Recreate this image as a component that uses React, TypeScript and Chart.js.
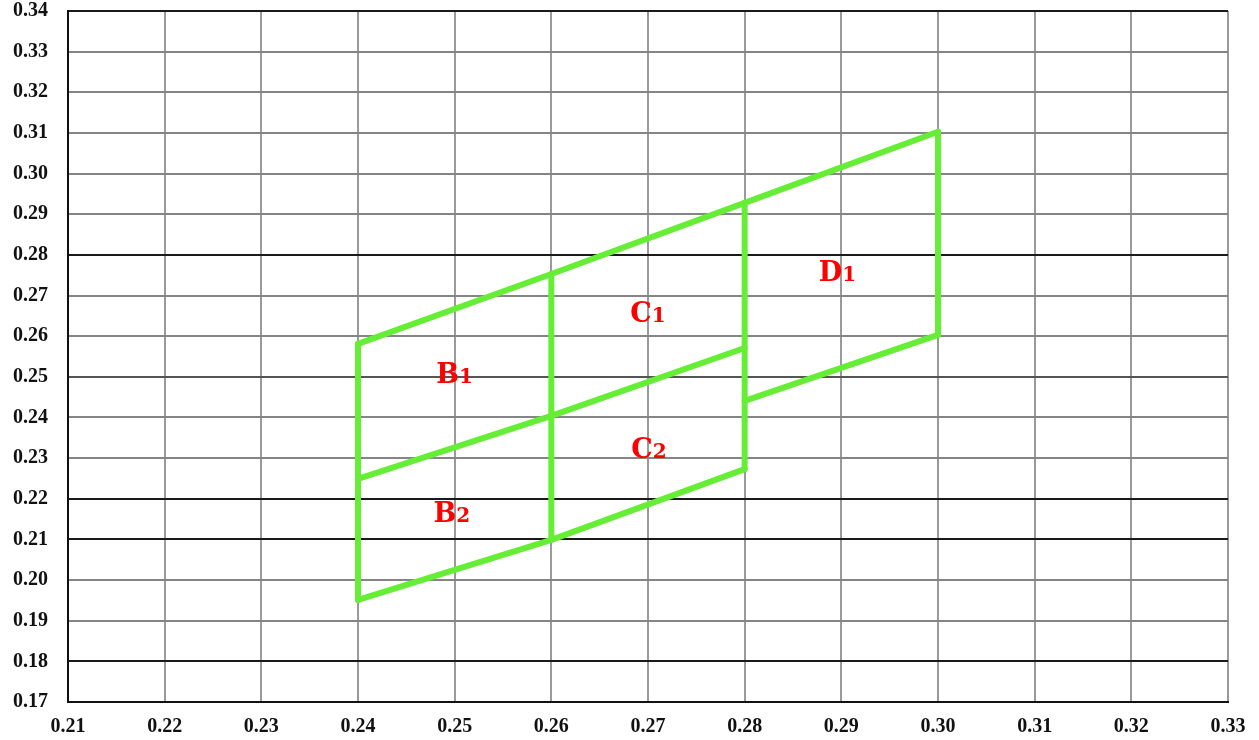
import React, { useEffect, useRef } from "react";
import { Chart, registerables } from "chart.js";

Chart.register(...registerables);

const xTickValues = [0.21, 0.22, 0.23, 0.24, 0.25, 0.26, 0.27, 0.28, 0.29, 0.3, 0.31, 0.32, 0.33];
const yTickValues = [0.17, 0.18, 0.19, 0.2, 0.21, 0.22, 0.23, 0.24, 0.25, 0.26, 0.27, 0.28, 0.29, 0.3, 0.31, 0.32, 0.33, 0.34];
const darkGridY = [0.18, 0.21, 0.22, 0.28, 0.34];
const midGridY = [0.25];

// Upper edge across B1, C1, D1
const topEdgeX = [0.24, 0.26, 0.28, 0.3];
const topEdgeY = [0.2581, 0.2753, 0.2928, 0.3103];
// Middle edge between B1/B2 and C1/C2
const midEdgeX = [0.24, 0.26, 0.28];
const midEdgeY = [0.2249, 0.2404, 0.2571];
// Lower edge of B2, C2
const lowEdgeX = [0.24, 0.26, 0.28];
const lowEdgeY = [0.1951, 0.2099, 0.2273];
// Lower edge of D1
const dLowEdgeX = [0.28, 0.3];
const dLowEdgeY = [0.2441, 0.2603];
// Vertical edges
const verticalX = [0.24, 0.26, 0.28, 0.3];
const verticalLow = [0.1951, 0.2099, 0.2273, 0.2603];
const verticalHigh = [0.2581, 0.2753, 0.2928, 0.3103];

// Region labels
const labelLetters = ["B", "B", "C", "C", "D"];
const labelDigits = ["1", "2", "1", "2", "1"];
const labelX = [0.25, 0.2497, 0.27, 0.2701, 0.2896];
const labelY = [0.2485, 0.2144, 0.2635, 0.23, 0.2736];

const GREEN = "#66ee36";

function near(list: number[], v: number) {
  return list.some((a) => Math.abs(a - v) < 1e-6);
}

function pts(xs: number[], ys: number[]) {
  return xs.map((x, i) => ({ x, y: ys[i] }));
}

const labelPlugin = {
  id: "regionLabels",
  afterDatasetsDraw(chart: any) {
    const ctx = chart.ctx;
    const xs = chart.scales.x;
    const ys = chart.scales.y;
    ctx.save();
    ctx.fillStyle = "#ff0000";
    ctx.textBaseline = "alphabetic";
    ctx.textAlign = "left";
    for (let i = 0; i < labelLetters.length; i++) {
      const px = xs.getPixelForValue(labelX[i]);
      const py = ys.getPixelForValue(labelY[i]);
      const fl = 'bold 27px "DejaVu Serif"';
      const fd = 'bold 20px "DejaVu Serif"';
      ctx.font = fl;
      const wl = ctx.measureText(labelLetters[i]).width;
      ctx.font = fd;
      const wd = ctx.measureText(labelDigits[i]).width;
      const start = px - (wl + wd) / 2;
      ctx.font = fl;
      ctx.fillText(labelLetters[i], start, py);
      ctx.font = fd;
      ctx.fillText(labelDigits[i], start + wl, py);
    }
    ctx.restore();
  },
};

export default function App() {
  const ref = useRef<HTMLCanvasElement>(null);
  useEffect(() => {
    if (!ref.current) return;
    const lineDs = (data: { x: number; y: number }[]) => ({
      data,
      borderColor: GREEN,
      backgroundColor: GREEN,
      borderWidth: 6,
      pointRadius: 0,
      pointHoverRadius: 0,
      showLine: true,
      fill: false,
      tension: 0,
      borderCapStyle: "round" as const,
      borderJoinStyle: "round" as const,
    });
    const datasets: any[] = [
      lineDs(pts(topEdgeX, topEdgeY)),
      lineDs(pts(midEdgeX, midEdgeY)),
      lineDs(pts(lowEdgeX, lowEdgeY)),
      lineDs(pts(dLowEdgeX, dLowEdgeY)),
      ...verticalX.map((x, i) =>
        lineDs([
          { x, y: verticalLow[i] },
          { x, y: verticalHigh[i] },
        ])
      ),
    ];
    const tickFont = { family: '"Liberation Serif"', size: 20, weight: "bold" as const, lineHeight: 1 };
    const chart = new Chart(ref.current, {
      type: "scatter",
      data: { datasets },
      plugins: [labelPlugin],
      options: {
        animation: false,
        responsive: false,
        layout: { padding: { top: 11, right: 31, left: 0, bottom: 0 }, autoPadding: false },
        plugins: { legend: { display: false }, tooltip: { enabled: false } },
        scales: {
          x: {
            type: "linear",
            min: 0.21,
            max: 0.33,
            afterBuildTicks: (s: any) => {
              s.ticks = xTickValues.map((v) => ({ value: v }));
            },
            afterFit: (s: any) => {
              s.height = 38;
              s.paddingLeft = 0;
              s.paddingRight = 0;
            },
            ticks: {
              color: "#111",
              font: tickFont,
              padding: 15,
              maxRotation: 0,
              autoSkip: false,
              callback: (v: any) => Number(v).toFixed(2),
            },
            grid: {
              drawTicks: false,
              color: (c: any) => (c.tick && Math.abs(c.tick.value - 0.21) < 1e-6 ? "#111" : "#9a9a9a"),
              lineWidth: 2,
            },
            border: { display: true, color: "#111", width: 2 },
          },
          y: {
            type: "linear",
            min: 0.17,
            max: 0.34,
            afterBuildTicks: (s: any) => {
              s.ticks = yTickValues.map((v) => ({ value: v }));
            },
            afterFit: (s: any) => {
              s.width = 68;
              s.paddingTop = 0;
              s.paddingBottom = 0;
            },
            ticks: {
              color: "#111",
              font: tickFont,
              padding: 20,
              autoSkip: false,
              callback: (v: any) => Number(v).toFixed(2),
            },
            grid: {
              drawTicks: false,
              color: (c: any) => {
                const v = c.tick ? c.tick.value : 0;
                if (near(darkGridY, v)) return "#1a1a1a";
                if (near(midGridY, v)) return "#555";
                return "#858585";
              },
              lineWidth: 2,
            },
            border: { display: true, color: "#111", width: 2 },
          },
        },
      },
    });
    return () => chart.destroy();
  }, []);
  return (
    <div style={{ position: "absolute", left: 0, top: 0, width: 1259, height: 740, background: "#fff" }}>
      <canvas ref={ref} width={1259} height={740} style={{ width: 1259, height: 740, display: "block" }} />
    </div>
  );
}
